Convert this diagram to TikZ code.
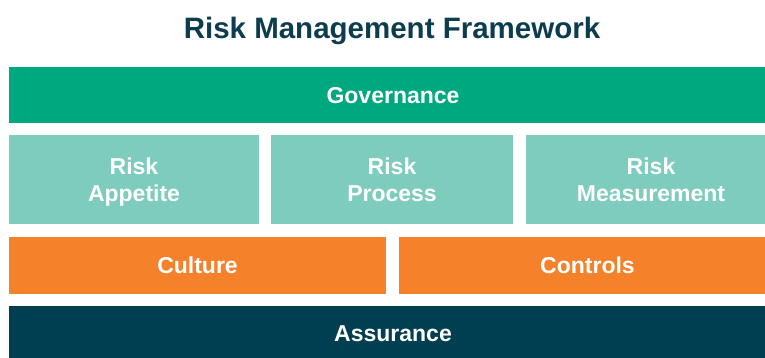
\documentclass[tikz,border=0pt]{standalone}
\usepackage{fontspec}
\setmainfont{Liberation Sans}
\definecolor{govgreen}{HTML}{00A87F}
\definecolor{palegreen}{HTML}{7ECCBD}
\definecolor{rmforange}{HTML}{F5812A}
\definecolor{deepteal}{HTML}{003F51}
\definecolor{titleteal}{HTML}{0C3D4F}
\tikzset{
  block/.style={anchor=north west, inner sep=0pt, outer sep=0pt, align=center,
    text depth=0pt, text=white, font=\fontsize{23}{27}\selectfont\bfseries},
  heading/.style={text=titleteal, font=\fontsize{29.5}{34}\selectfont\bfseries}
}
\begin{document}
\begin{tikzpicture}[x=1pt,y=-1pt]
                \useasboundingbox[fill=white] (0,0) rectangle (765,357);

                \node[heading] (title) at (392,31) {Risk Management Framework};

                \node[block, fill=govgreen, minimum width=768pt, minimum height=56pt] (gov) at (9,67) {Governance};

                \node[block, fill=palegreen, minimum width=250pt, minimum height=89pt] (appetite) at (9,135) {Risk\\Appetite};
                \node[block, fill=palegreen, minimum width=242pt, minimum height=89pt] (process) at (271,135) {Risk\\Process};
                \node[block, fill=palegreen, minimum width=250pt, minimum height=89pt] (measure) at (526,135) {Risk\\Measurement};

                \node[block, fill=rmforange, minimum width=377pt, minimum height=57pt] (culture) at (9,237) {Culture};
                \node[block, fill=rmforange, minimum width=377pt, minimum height=57pt] (controls) at (399,237) {Controls};

                \node[block, fill=deepteal, minimum width=768pt, minimum height=56pt] (assure) at (9,306) {Assurance};
            \end{tikzpicture}
\end{document}
